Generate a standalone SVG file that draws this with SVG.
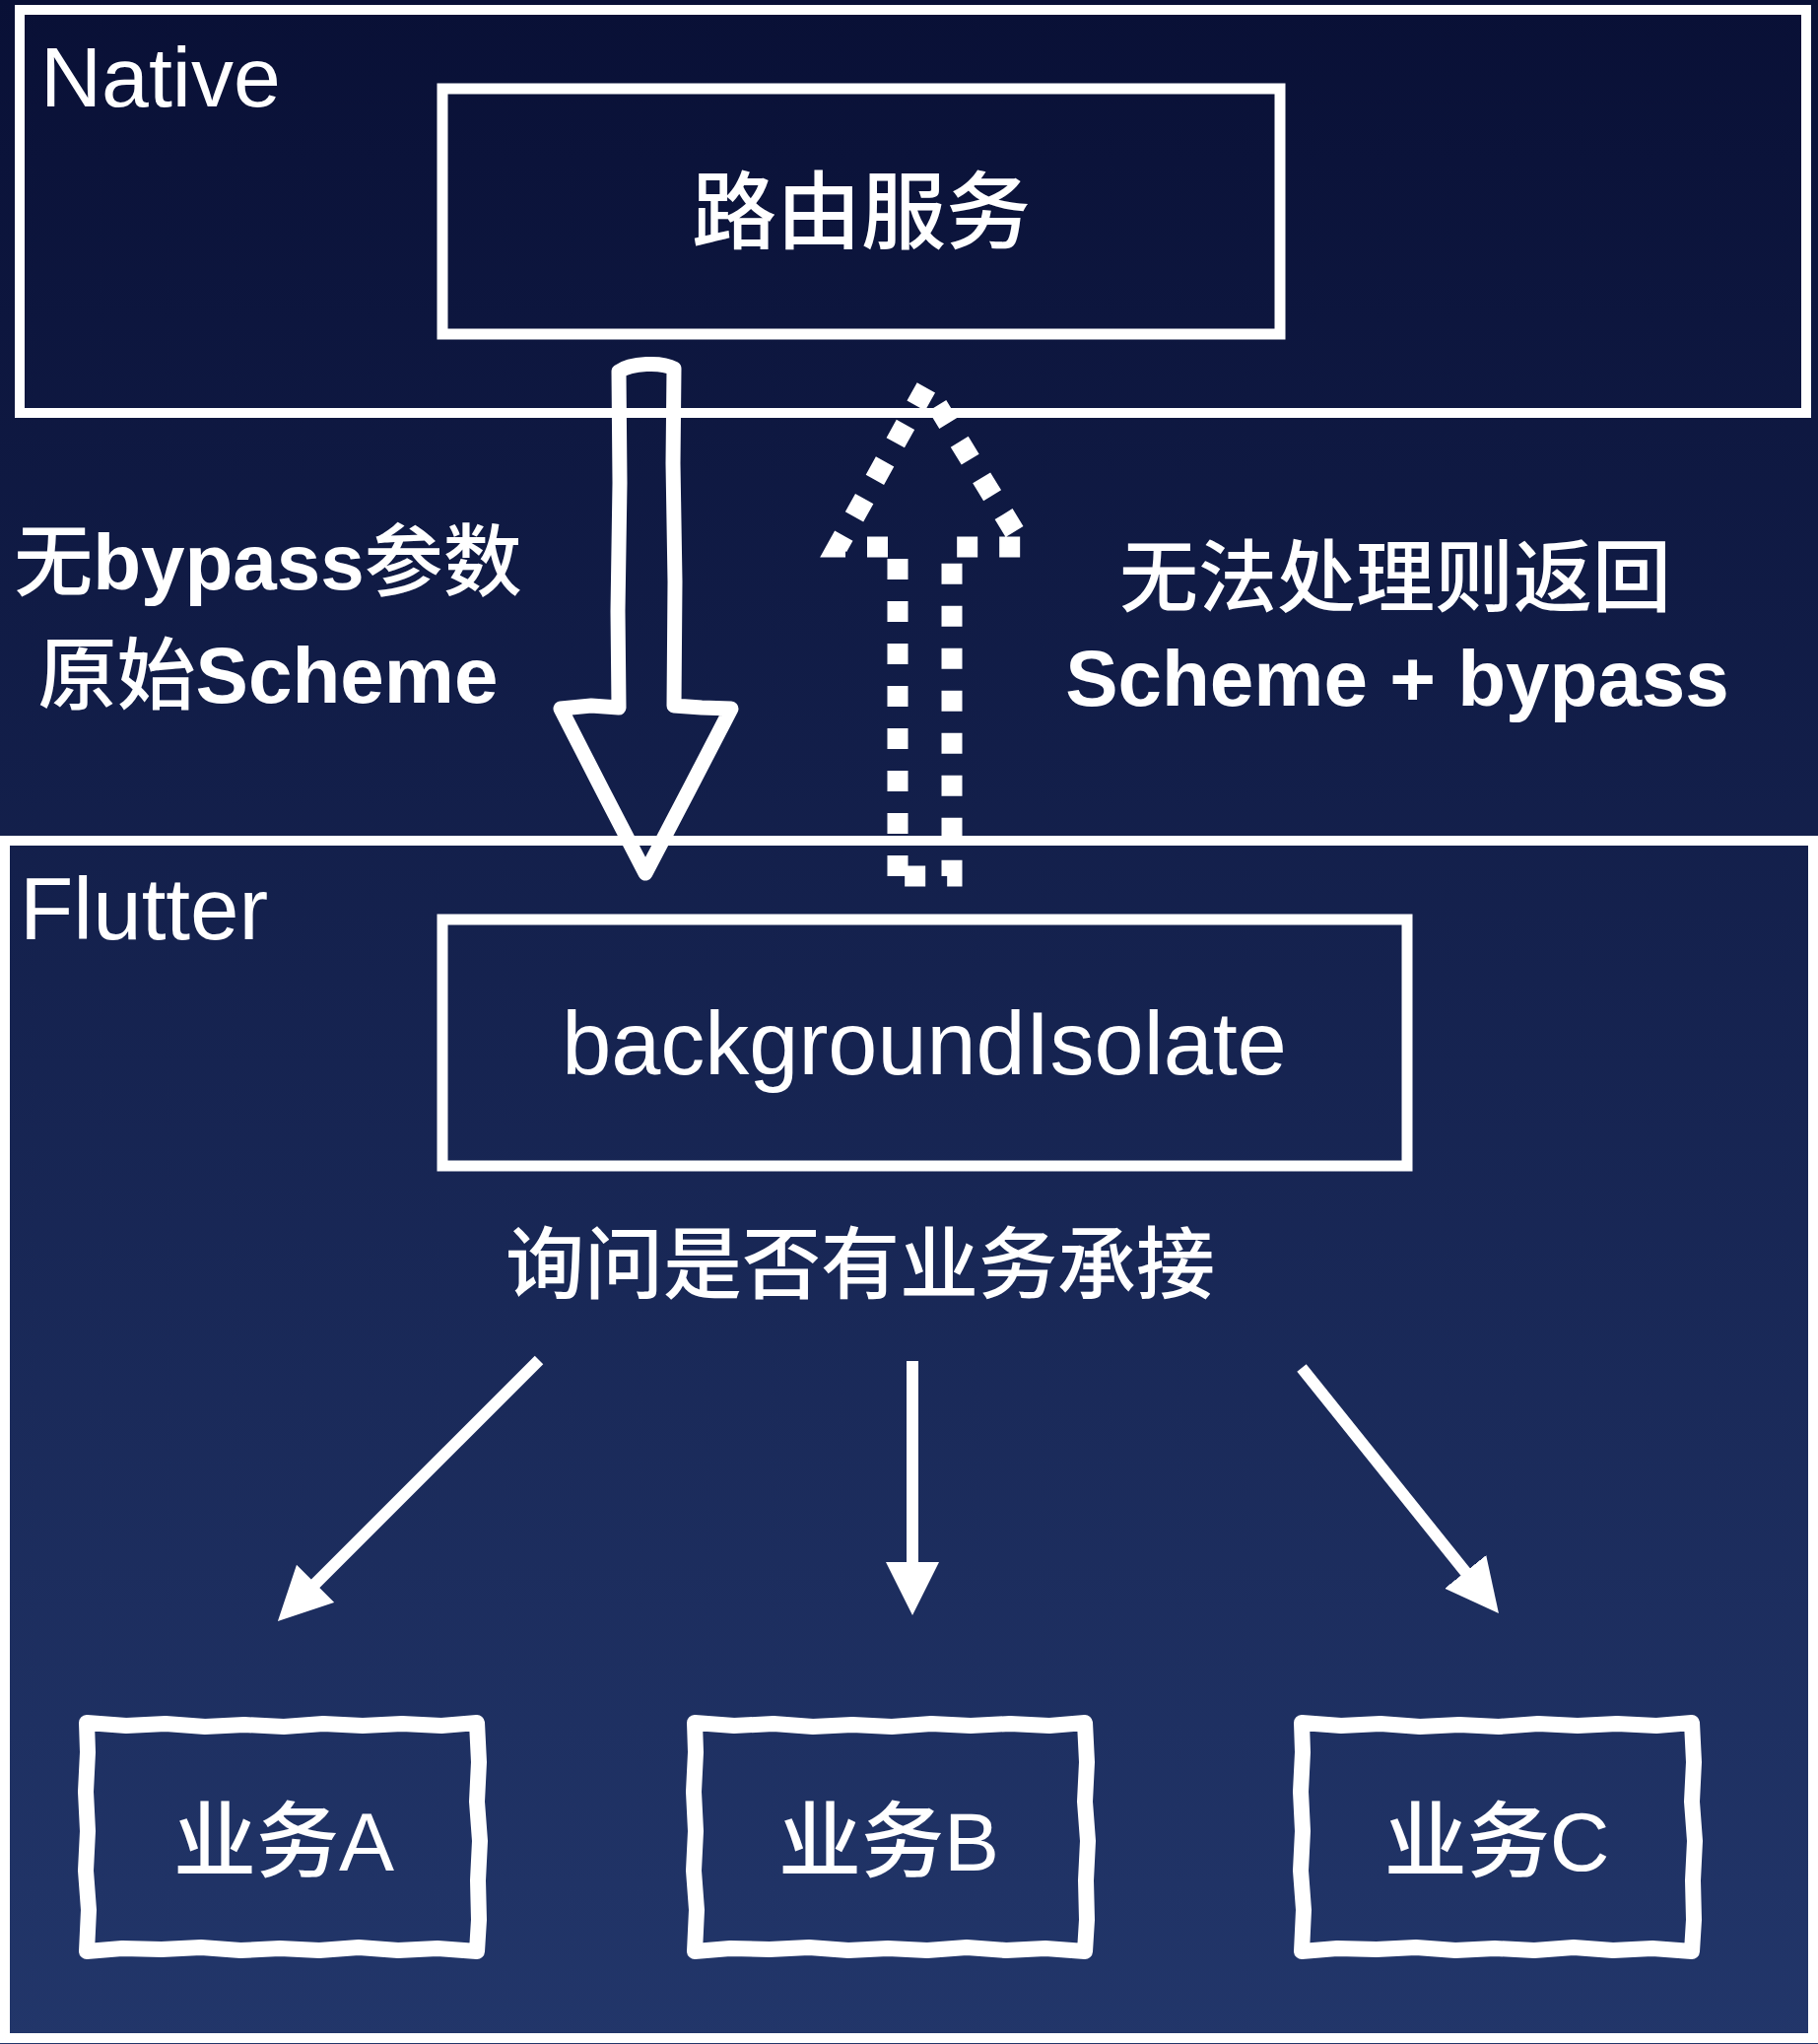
<svg xmlns="http://www.w3.org/2000/svg" xmlns:xlink="http://www.w3.org/1999/xlink" width="1845" height="2074" viewBox="0 0 1845 2074">
  <defs>
    <linearGradient id="bgGrad" x1="0" y1="0" x2="0" y2="2074" gradientUnits="userSpaceOnUse">
      <stop offset="0" stop-color="#091036"/>
      <stop offset="1" stop-color="#22366a"/>
    </linearGradient>
    <marker id="head" markerUnits="userSpaceOnUse" markerWidth="56" markerHeight="56" refX="2" refY="27" orient="auto">
      <path d="M0,0 L54,27 L0,54 Z" fill="#ffffff"/>
    </marker>
    <path id="sketchBox" d="M0,0 L40,3 L80,1 L120,4 L160,2 L200,4 L240,1 L280,3 L320,1 L360,3 L396,0 L398,40 L396,80 L399,120 L397,160 L398,200 L396,232 L356,229 L316,231 L276,228 L236,231 L196,229 L156,231 L116,228 L76,230 L36,229 L0,232 L2,190 L-1,150 L1,110 L-1,70 L1,30 Z"/>
  </defs>
  <style>
    .panel { fill: none; stroke: #ffffff; stroke-width: 10; }
    .box { fill: none; stroke: #ffffff; stroke-width: 11; }
    .sketch { fill: none; stroke: #ffffff; stroke-width: 16; stroke-linejoin: round; stroke-linecap: round; }
    .txt { fill: #ffffff; font-family: "Liberation Sans", "Noto Sans CJK SC", sans-serif; }
    .cjk { font-weight: 500; }
    .lat { font-weight: 700; }
    .conn { fill: none; stroke: #ffffff; stroke-width: 12; }
    .hollow { fill: none; stroke: #ffffff; stroke-width: 15; stroke-linejoin: round; stroke-linecap: round; }
    .dotted { fill: none; stroke: #ffffff; stroke-width: 21; stroke-dasharray: 21 22; stroke-linejoin: miter; }
  </style>

  <rect id="background" x="0" y="0" width="1845" height="2074" fill="url(#bgGrad)"/>

  <g id="native-panel">
    <rect class="panel" x="20" y="10" width="1813" height="409"/>
    <text class="txt" x="41" y="108" font-size="86">Native</text>
  </g>

  <g id="flutter-panel">
    <rect class="panel" x="5" y="853" width="1835" height="1215"/>
    <text class="txt" x="20" y="953" font-size="89">Flutter</text>
  </g>

  <g id="node-router">
    <rect class="box" x="449" y="90" width="850" height="249"/>
    <text class="txt cjk" x="874" y="246" font-size="86" text-anchor="middle">路由服务</text>
  </g>

  <g id="node-background-isolate">
    <rect class="box" x="449" y="933" width="979" height="250"/>
    <text class="txt" x="938" y="1090" font-size="90" text-anchor="middle">backgroundIsolate</text>
  </g>

  <g id="label-query">
    <text class="txt cjk" x="873" y="1311" font-size="80" text-anchor="middle">询问是否有业务承接</text>
  </g>

  <g id="node-biz-a">
    <use xlink:href="#sketchBox" class="sketch" transform="translate(88,1748)"/>
    <text class="txt cjk" x="288" y="1898" font-size="84" text-anchor="middle">业务A</text>
  </g>
  <g id="node-biz-b">
    <use xlink:href="#sketchBox" class="sketch" transform="translate(705,1748)"/>
    <text class="txt cjk" x="902" y="1898" font-size="84" text-anchor="middle">业务B</text>
  </g>
  <g id="node-biz-c">
    <use xlink:href="#sketchBox" class="sketch" transform="translate(1321,1748)"/>
    <text class="txt cjk" x="1519" y="1898" font-size="84" text-anchor="middle">业务C</text>
  </g>

  <g id="connectors">
    <path id="conn-request" class="hollow" d="M628,377 C640,368 672,367 684,374 L683,470 L685,590 L684,716 L712,718 L742,719 L700,800 L655,886 L612,803 L569,719 L600,716 L628,718 L627,620 L629,490 Z"/>
    <path id="conn-return" class="dotted" d="M911,889 L911,555 L850,555 L940,393 L1039,555 L966,555 L966,889 Z"/>
    <line id="conn-a" class="conn" x1="547" y1="1380" x2="318.7" y2="1608.2" marker-end="url(#head)"/>
    <line id="conn-b" class="conn" x1="926" y1="1381" x2="926" y2="1587" marker-end="url(#head)"/>
    <line id="conn-c" class="conn" x1="1321" y1="1388" x2="1488.4" y2="1596.5" marker-end="url(#head)"/>
  </g>

  <g id="connector-labels">
    <text class="txt" x="272" y="598" font-size="80" text-anchor="middle"><tspan class="cjk">无</tspan><tspan class="lat">bypass</tspan><tspan class="cjk">参数</tspan></text>
    <text class="txt" x="272" y="713" font-size="80" text-anchor="middle"><tspan class="cjk">原始</tspan><tspan class="lat">Scheme</tspan></text>
    <text class="txt cjk" x="1416" y="614" font-size="80" text-anchor="middle">无法处理则返回</text>
    <text class="txt lat" x="1418" y="716" font-size="80" text-anchor="middle">Scheme + bypass</text>
  </g>
</svg>
